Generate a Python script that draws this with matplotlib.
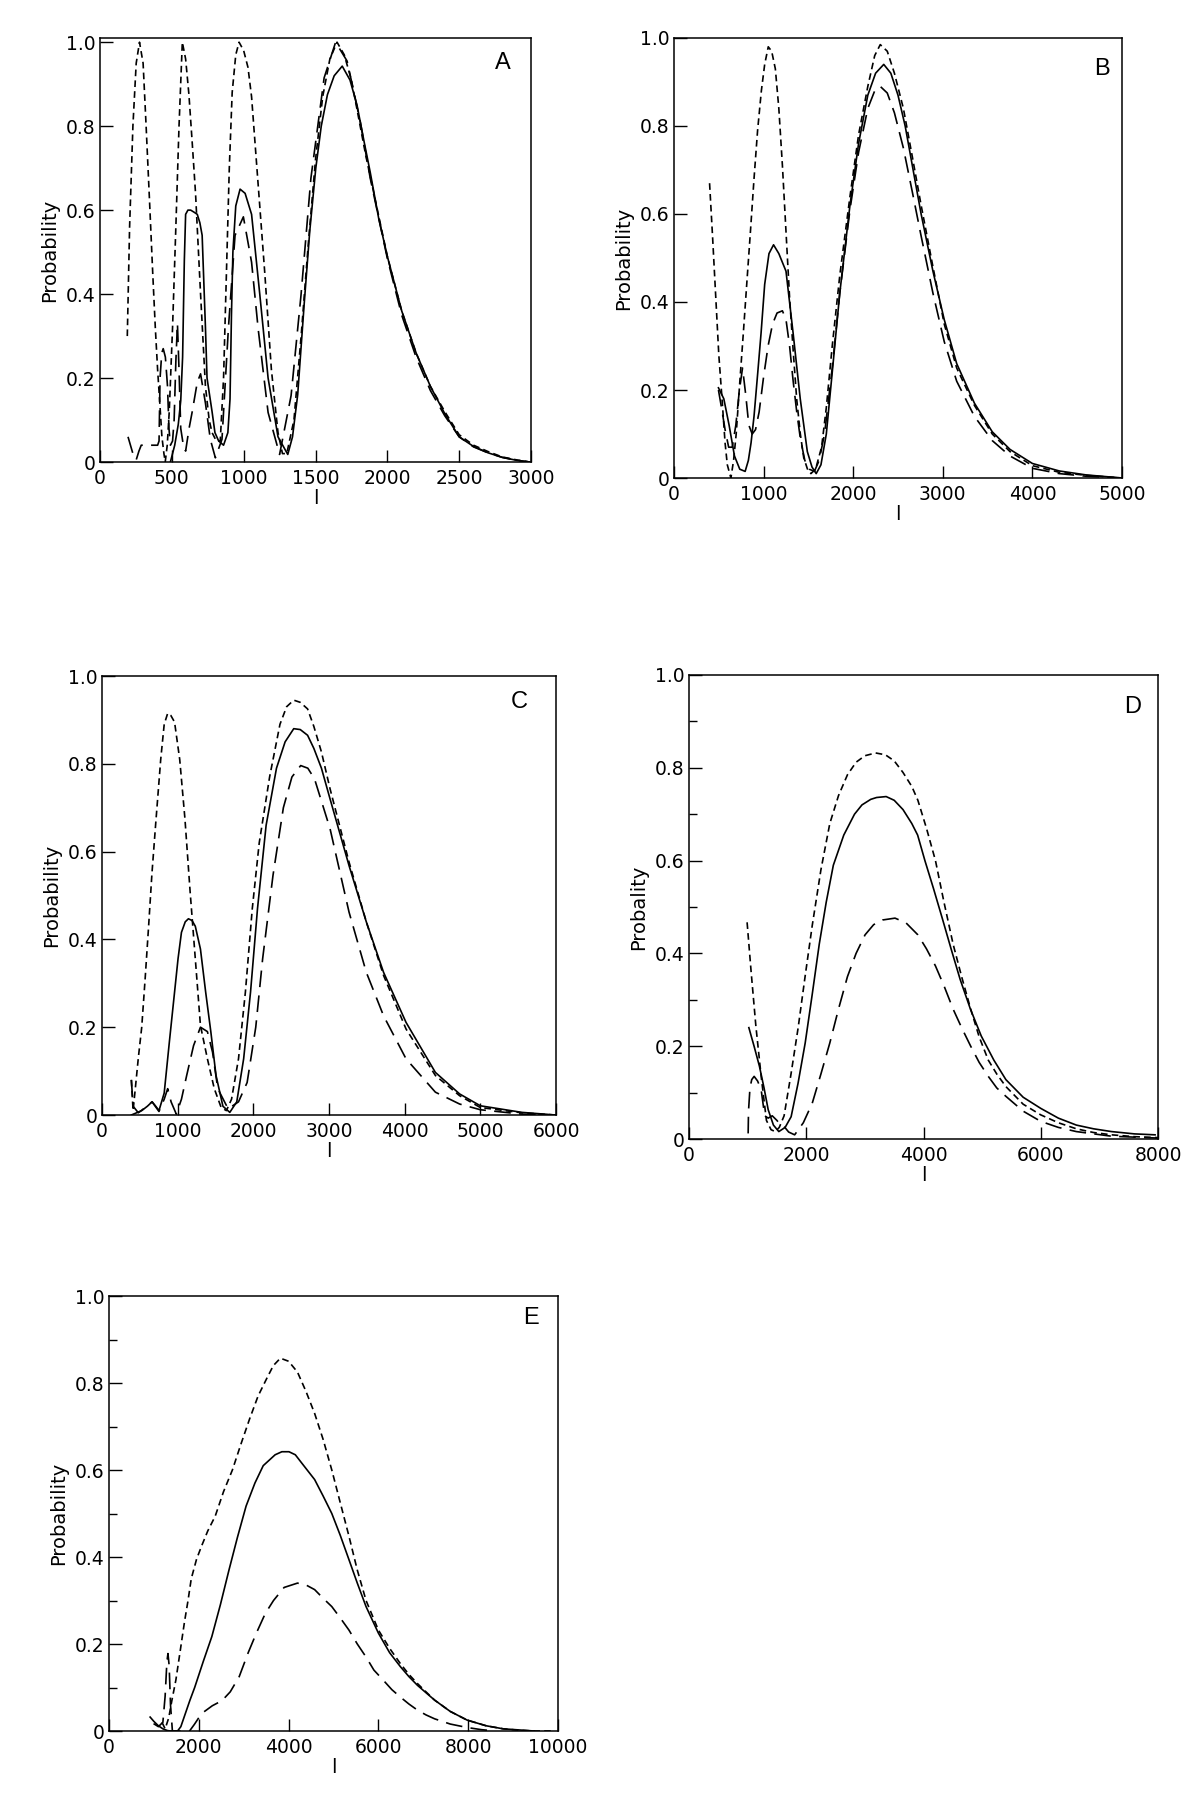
import matplotlib
matplotlib.use("Agg")
import matplotlib.pyplot as plt
from matplotlib.ticker import MultipleLocator

# ---------------- data ----------------
# Panel A
a_short_x = [190, 206, 229, 252, 275, 300, 321, 345, 367, 385, 401, 420, 431, 445, 454, 468, 482, 505, 528, 550,
             573, 596, 619, 642, 665, 700, 734, 760, 780, 810, 837, 860, 880, 900, 920, 945, 968, 1000, 1030, 1055,
             1101, 1147, 1193, 1239, 1270, 1300, 1350, 1400, 1450, 1500, 1550, 1600, 1650, 1700, 1750, 1800, 1850,
             1900, 1950, 2000, 2100, 2200, 2300, 2400, 2500, 2600, 2700, 2800, 2900, 2990]
a_short_y = [0.30, 0.56, 0.80, 0.95, 1.0, 0.95, 0.80, 0.62, 0.45, 0.32, 0.22, 0.12, 0.06, 0.02, 0.0, 0.04, 0.12, 0.32,
             0.56, 0.80, 1.0, 0.96, 0.875, 0.76, 0.64, 0.40, 0.18, 0.10, 0.07, 0.05, 0.05, 0.20, 0.45, 0.70, 0.88,
             0.97, 1.0, 0.98, 0.94, 0.87, 0.66, 0.45, 0.22, 0.07, 0.02, 0.02, 0.10, 0.30, 0.52, 0.72, 0.87, 0.96, 1.0,
             0.97, 0.91, 0.82, 0.73, 0.65, 0.57, 0.49, 0.36, 0.26, 0.18, 0.12, 0.065, 0.04, 0.025, 0.012, 0.005, 0.0]
a_solid_x = [490, 520, 545, 562, 575, 587, 596, 612, 631, 655, 677, 695, 711, 734, 745, 780, 800, 826, 860, 890, 905,
             915, 925, 945, 975, 1010, 1055, 1112, 1170, 1239, 1307, 1340, 1376, 1422, 1460, 1502, 1540, 1583, 1630,
             1686, 1740, 1789, 1840, 1881, 1940, 2000, 2100, 2200, 2300, 2400, 2500, 2600, 2700, 2800, 2900, 2990]
a_solid_y = [0.0, 0.04, 0.09, 0.146, 0.25, 0.48, 0.59, 0.60, 0.60, 0.595, 0.59, 0.57, 0.54, 0.32, 0.20, 0.12, 0.07,
             0.05, 0.04, 0.07, 0.15, 0.35, 0.50, 0.61, 0.65, 0.64, 0.59, 0.40, 0.20, 0.06, 0.018, 0.06, 0.16, 0.38,
             0.55, 0.70, 0.80, 0.875, 0.92, 0.943, 0.91, 0.85, 0.76, 0.69, 0.58, 0.49, 0.36, 0.26, 0.18, 0.115, 0.06,
             0.037, 0.022, 0.011, 0.004, 0.0]
a_long_x = [195, 229, 252, 271, 287, 344, 401, 411, 418, 430, 440, 455, 470, 480, 490, 505, 516, 528, 539, 550, 562,
            580, 596, 620, 642, 677, 700, 734, 768, 803, 849, 894, 940, 998, 1055, 1101, 1170, 1250, 1330, 1399,
            1468, 1560, 1640, 1720, 1812, 1881, 2000, 2100, 2200, 2300, 2400, 2500, 2600, 2700, 2800, 2900, 2990]
a_long_y = [0.06, 0.02, 0.005, 0.026, 0.04, 0.04, 0.04, 0.05, 0.20, 0.26, 0.27, 0.25, 0.18, 0.08, 0.04, 0.05, 0.10,
            0.24, 0.33, 0.22, 0.08, 0.04, 0.026, 0.08, 0.12, 0.19, 0.21, 0.14, 0.054, 0.01, 0.054, 0.32, 0.54, 0.584,
            0.476, 0.317, 0.118, 0.018, 0.158, 0.397, 0.676, 0.915, 1.0, 0.955, 0.81, 0.676, 0.485, 0.35, 0.25,
            0.17, 0.11, 0.06, 0.036, 0.022, 0.011, 0.004, 0.0]

# Panel B
b_short_x = [397, 430, 456, 500, 536, 570, 595, 635, 665, 694, 735, 774, 815, 853, 893, 933, 975, 1012, 1052, 1090,
             1131, 1170, 1210, 1250, 1290, 1330, 1369, 1410, 1448, 1490, 1528, 1580, 1647, 1700, 1766, 1850, 1964,
             2060, 2163, 2240, 2302, 2380, 2460, 2560, 2660, 2758, 2890, 3016, 3155, 3353, 3552, 3750, 4000, 4300,
             4600, 5000]
b_short_y = [0.67, 0.55, 0.45, 0.28, 0.18, 0.08, 0.03, 0.0, 0.04, 0.10, 0.22, 0.33, 0.45, 0.56, 0.68, 0.79, 0.88,
             0.94, 0.98, 0.97, 0.93, 0.84, 0.71, 0.56, 0.41, 0.29, 0.18, 0.10, 0.046, 0.02, 0.01, 0.02, 0.07, 0.16,
             0.30, 0.46, 0.64, 0.78, 0.89, 0.96, 0.985, 0.97, 0.92, 0.84, 0.73, 0.62, 0.48, 0.35, 0.25, 0.165, 0.10,
             0.06, 0.028, 0.013, 0.006, 0.0]
b_solid_x = [496, 556, 615, 675, 734, 794, 830, 860, 893, 935, 972, 1012, 1060, 1111, 1170, 1250, 1329, 1409, 1488,
             1540, 1587, 1640, 1700, 1766, 1850, 1964, 2060, 2163, 2250, 2341, 2420, 2500, 2580, 2660, 2758, 2890,
             3016, 3155, 3353, 3552, 3750, 4000, 4300, 4600, 5000]
b_solid_y = [0.205, 0.18, 0.12, 0.05, 0.02, 0.015, 0.04, 0.08, 0.14, 0.24, 0.33, 0.44, 0.51, 0.53, 0.51, 0.47, 0.33,
             0.18, 0.06, 0.025, 0.01, 0.03, 0.10, 0.24, 0.42, 0.62, 0.76, 0.87, 0.92, 0.94, 0.92, 0.87, 0.80, 0.71,
             0.60, 0.47, 0.36, 0.26, 0.17, 0.105, 0.065, 0.033, 0.016, 0.007, 0.0]
b_long_x = [496, 530, 570, 610, 650, 690, 730, 765, 800, 835, 873, 910, 950, 1000, 1050, 1100, 1150, 1210, 1250, 1290,
            1330, 1370, 1410, 1460, 1510, 1567, 1620, 1680, 1766, 1850, 1964, 2060, 2163, 2240, 2302, 2380, 2460,
            2560, 2660, 2758, 2890, 3016, 3155, 3353, 3552, 3750, 4000, 4300, 4600, 5000]
b_long_y = [0.20, 0.16, 0.11, 0.07, 0.07, 0.12, 0.20, 0.25, 0.19, 0.12, 0.10, 0.11, 0.15, 0.23, 0.30, 0.35, 0.375,
            0.38, 0.36, 0.30, 0.22, 0.15, 0.09, 0.04, 0.02, 0.015, 0.04, 0.10, 0.25, 0.42, 0.61, 0.74, 0.84, 0.88,
            0.89, 0.875, 0.83, 0.75, 0.65, 0.55, 0.42, 0.31, 0.22, 0.14, 0.085, 0.05, 0.022, 0.01, 0.004, 0.0]

# Panel C
c_short_x = [388, 411, 440, 480, 525, 570, 616, 660, 708, 776, 822, 868, 910, 959, 1027, 1096, 1164, 1233, 1301,
             1393, 1484, 1575, 1644, 1712, 1804, 1895, 1986, 2078, 2215, 2352, 2440, 2534, 2620, 2717, 2800, 2900,
             3014, 3265, 3493, 3721, 4018, 4406, 4726, 5000, 5548, 5990]
c_short_y = [0.08, 0.01, 0.06, 0.13, 0.20, 0.31, 0.43, 0.55, 0.66, 0.81, 0.89, 0.915, 0.91, 0.895, 0.81, 0.675,
             0.51, 0.356, 0.204, 0.128, 0.06, 0.017, 0.01, 0.036, 0.128, 0.28, 0.47, 0.62, 0.77, 0.89, 0.93, 0.945,
             0.94, 0.925, 0.885, 0.827, 0.743, 0.576, 0.44, 0.318, 0.196, 0.09, 0.044, 0.017, 0.005, 0.0]
c_solid_x = [388, 525, 600, 662, 710, 753, 822, 890, 959, 1005, 1050, 1100, 1142, 1190, 1233, 1301, 1370, 1438, 1507,
             1598, 1689, 1781, 1872, 1963, 2055, 2169, 2306, 2420, 2534, 2620, 2717, 2800, 2900, 3014, 3265, 3493,
             3721, 4018, 4406, 4726, 5000, 5548, 5990]
c_solid_y = [0.0, 0.01, 0.02, 0.03, 0.02, 0.01, 0.05, 0.166, 0.28, 0.356, 0.416, 0.44, 0.447, 0.443, 0.43, 0.378,
             0.28, 0.19, 0.09, 0.02, 0.006, 0.03, 0.128, 0.28, 0.47, 0.66, 0.79, 0.85, 0.88, 0.878, 0.865, 0.835,
             0.79, 0.72, 0.568, 0.44, 0.325, 0.211, 0.097, 0.048, 0.021, 0.006, 0.0]
c_long_x = [388, 411, 480, 571, 662, 753, 822, 868, 913, 982, 1050, 1119, 1210, 1301, 1393, 1461, 1530, 1667, 1804,
            1918, 2032, 2123, 2260, 2397, 2510, 2626, 2720, 2808, 3014, 3265, 3493, 3721, 4018, 4406, 4726, 5000,
            5548, 5990]
c_long_y = [0.08, 0.02, 0.005, 0.017, 0.03, 0.008, 0.036, 0.06, 0.03, 0.002, 0.036, 0.09, 0.158, 0.20, 0.19, 0.143,
            0.06, 0.014, 0.03, 0.074, 0.20, 0.356, 0.546, 0.70, 0.77, 0.796, 0.79, 0.766, 0.652, 0.462, 0.325, 0.226,
            0.128, 0.052, 0.025, 0.012, 0.002, 0.0]

# Panel D
d_short_x = [991, 1060, 1141, 1231, 1321, 1400, 1471, 1540, 1622, 1740, 1862, 1980, 2102, 2250, 2402, 2550, 2703,
             2850, 3000, 3183, 3350, 3500, 3650, 3800, 3904, 4050, 4204, 4350, 4505, 4650, 4805, 4950, 5105, 5250,
             5405, 5700, 6000, 6300, 6607, 6900, 7207, 7600, 8000]
d_short_y = [0.467, 0.36, 0.243, 0.135, 0.04, 0.02, 0.016, 0.025, 0.05, 0.14, 0.24, 0.35, 0.46, 0.58, 0.68, 0.74,
             0.785, 0.812, 0.826, 0.832, 0.828, 0.815, 0.79, 0.76, 0.73, 0.67, 0.60, 0.51, 0.42, 0.35, 0.28, 0.22,
             0.17, 0.14, 0.113, 0.075, 0.052, 0.035, 0.022, 0.014, 0.009, 0.005, 0.003]
d_solid_x = [1021, 1110, 1201, 1280, 1351, 1440, 1532, 1640, 1742, 1860, 1982, 2100, 2222, 2340, 2462, 2640, 2823,
             2950, 3100, 3200, 3363, 3500, 3650, 3800, 3900, 4024, 4170, 4324, 4470, 4625, 4800, 4985, 5200, 5405,
             5700, 6000, 6300, 6607, 6900, 7207, 7600, 7950]
d_solid_y = [0.24, 0.20, 0.157, 0.11, 0.063, 0.03, 0.016, 0.025, 0.048, 0.12, 0.207, 0.31, 0.42, 0.51, 0.59, 0.655,
             0.70, 0.72, 0.732, 0.736, 0.738, 0.73, 0.71, 0.68, 0.655, 0.60, 0.54, 0.474, 0.41, 0.344, 0.28, 0.222,
             0.17, 0.128, 0.09, 0.066, 0.045, 0.03, 0.022, 0.016, 0.011, 0.009]
d_long_x = [1009, 1015, 1040, 1070, 1111, 1170, 1231, 1291, 1351, 1420, 1500, 1560, 1622, 1700, 1802, 1950, 2102,
            2250, 2402, 2550, 2703, 2850, 3003, 3150, 3300, 3514, 3700, 3904, 4050, 4204, 4350, 4505, 4650, 4805,
            4950, 5105, 5250, 5405, 5700, 6000, 6300, 6607, 7207, 8000]
d_long_y = [0.012, 0.06, 0.11, 0.128, 0.135, 0.125, 0.106, 0.05, 0.045, 0.05, 0.04, 0.03, 0.027, 0.015, 0.009, 0.035,
            0.077, 0.14, 0.207, 0.28, 0.35, 0.40, 0.44, 0.462, 0.472, 0.476, 0.466, 0.44, 0.41, 0.373, 0.33, 0.28,
            0.24, 0.20, 0.165, 0.135, 0.11, 0.092, 0.06, 0.038, 0.025, 0.016, 0.006, 0.002]

# Panel E
e_short_x = [1180, 1250, 1330, 1400, 1489, 1580, 1680, 1760, 1832, 1950, 2061, 2200, 2366, 2550, 2748, 2940, 3130,
             3320, 3511, 3660, 3817, 4000, 4198, 4390, 4580, 4770, 4962, 5150, 5344, 5530, 5725, 6000, 6250, 6489,
             6680, 6870, 7060, 7252, 7600, 7977, 8400, 8779, 9100, 9466, 9900]
e_short_y = [0.02, 0.005, 0.03, 0.07, 0.117, 0.18, 0.25, 0.30, 0.35, 0.395, 0.425, 0.46, 0.494, 0.55, 0.60, 0.66,
             0.717, 0.77, 0.81, 0.84, 0.857, 0.85, 0.825, 0.78, 0.73, 0.67, 0.60, 0.525, 0.448, 0.37, 0.30, 0.232,
             0.19, 0.155, 0.13, 0.109, 0.09, 0.071, 0.045, 0.025, 0.012, 0.005, 0.002, 0.0, 0.0]
e_solid_x = [916, 1000, 1100, 1200, 1300, 1374, 1450, 1527, 1600, 1700, 1800, 1908, 2100, 2290, 2480, 2672, 2860,
             3053, 3250, 3435, 3700, 3850, 4008, 4150, 4300, 4580, 4770, 4962, 5150, 5344, 5530, 5725, 6000, 6250,
             6489, 6680, 6870, 7060, 7252, 7600, 7977, 8400, 8779, 9466]
e_solid_y = [0.032, 0.022, 0.012, 0.005, 0.001, 0.0, 0.0, 0.0, 0.01, 0.04, 0.07, 0.10, 0.16, 0.217, 0.29, 0.37, 0.445,
             0.517, 0.57, 0.61, 0.635, 0.642, 0.642, 0.635, 0.615, 0.578, 0.54, 0.50, 0.45, 0.394, 0.34, 0.286, 0.225,
             0.18, 0.148, 0.125, 0.105, 0.088, 0.071, 0.045, 0.025, 0.012, 0.005, 0.0]
e_long_x = [992, 1100, 1200, 1250, 1290, 1313, 1340, 1370, 1412, 1600, 1794, 1900, 2061, 2300, 2519, 2700, 2900, 3100,
            3282, 3480, 3664, 3900, 4198, 4400, 4580, 4770, 4962, 5150, 5344, 5530, 5725, 5900, 6107, 6300, 6489,
            6680, 6870, 7060, 7252, 7600, 7977, 8300, 8600]
e_long_y = [0.017, 0.01, 0.02, 0.08, 0.16, 0.178, 0.15, 0.06, 0.0, 0.0, 0.0, 0.015, 0.04, 0.058, 0.07, 0.09, 0.125,
            0.18, 0.225, 0.27, 0.30, 0.33, 0.34, 0.335, 0.325, 0.305, 0.286, 0.26, 0.232, 0.20, 0.17, 0.14, 0.117,
            0.095, 0.078, 0.062, 0.048, 0.037, 0.028, 0.016, 0.008, 0.003, 0.0]

# ---------------- layout ----------------
W, H = 1200, 1810
fig = plt.figure(figsize=(W / 100, H / 100), dpi=100, facecolor="white")


def box(l, r, t, b):
    return [l / W, 1 - b / H, (r - l) / W, (b - t) / H]


short_ls = (0, (4, 2.5))
long_ls = (0, (10, 5))

panels = [
    ("A", box(100, 531, 38, 462), 3000, 500, 1.01, "Probability", False,
     (a_solid_x, a_solid_y), (a_short_x, a_short_y), (a_long_x, a_long_y), (0.935, 0.94)),
    ("B", box(674, 1122, 38, 478), 5000, 1000, 1.0, "Probability", False,
     (b_solid_x, b_solid_y), (b_short_x, b_short_y), (b_long_x, b_long_y), (0.955, 0.93)),
    ("C", box(102, 556, 676, 1115), 6000, 1000, 1.0, "Probability", False,
     (c_solid_x, c_solid_y), (c_short_x, c_short_y), (c_long_x, c_long_y), (0.92, 0.94)),
    ("D", box(689, 1158, 675, 1139), 8000, 2000, 1.0, "Probality", True,
     (d_solid_x, d_solid_y), (d_short_x, d_short_y), (d_long_x, d_long_y), (0.945, 0.93)),
    ("E", box(109, 558, 1296, 1731), 10000, 2000, 1.0, "Probability", True,
     (e_solid_x, e_solid_y), (e_short_x, e_short_y), (e_long_x, e_long_y), (0.94, 0.95)),
]

for name, rect, xmax, xstep, ytop, ylab, minor, solid, short, long_, lpos in panels:
    ax = fig.add_axes(rect)
    ax.plot(solid[0], solid[1], color="black", lw=1.2, ls="-")
    ax.plot(short[0], short[1], color="black", lw=1.2, ls=short_ls)
    ax.plot(long_[0], long_[1], color="black", lw=1.2, ls=long_ls)

    ax.set_xlim(0, xmax)
    ax.set_ylim(0, ytop)
    ax.xaxis.set_major_locator(MultipleLocator(xstep))
    ax.set_yticks([0, 0.2, 0.4, 0.6, 0.8, 1.0])
    ax.set_yticklabels(["0", "0.2", "0.4", "0.6", "0.8", "1.0"])
    if minor:
        ax.yaxis.set_minor_locator(MultipleLocator(0.1))
    ax.tick_params(axis="both", which="major", direction="in", length=9, width=1.0,
                   labelsize=13.5, top=False, right=False)
    ax.tick_params(axis="y", which="minor", direction="in", length=6, width=1.0)
    ax.tick_params(axis="y", which="major", pad=3)
    ax.tick_params(axis="x", which="major", pad=5)
    for s in ax.spines.values():
        s.set_linewidth(1.1)

    ax.set_ylabel(ylab, fontsize=14, labelpad=5)
    ax.set_xlabel("l", fontsize=14, labelpad=1)
    ax.text(lpos[0], lpos[1], name, transform=ax.transAxes, fontsize=17,
            family="Liberation Sans", ha="center", va="center")

fig.savefig("out.png", dpi=100, facecolor="white")
